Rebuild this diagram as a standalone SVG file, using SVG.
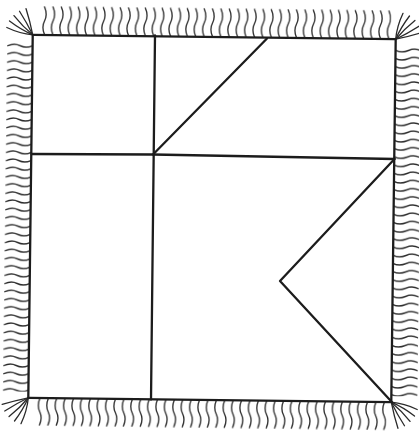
<svg xmlns="http://www.w3.org/2000/svg" width="419" height="432" viewBox="0 0 419 432">
  <style>
    .edge { fill: none; stroke: #1c1c1c; stroke-width: 2.3; stroke-linejoin: round; stroke-linecap: round; }
    .fr { fill: none; stroke: #2a2a2a; stroke-width: 1.3; stroke-linecap: round; }
  </style>
  <defs>
    <pattern id="pTop" patternUnits="userSpaceOnUse" x="38" y="8" width="8.4" height="29">
      <path class="fr" d="M4,0.8 C6.2,6 6.2,11 4.2,15 S2.2,24 4.4,29"/>
    </pattern>
    <pattern id="pBot" patternUnits="userSpaceOnUse" x="38" y="400" width="8.4" height="28">
      <path class="fr" d="M4.2,0 C2.2,5 2.2,10 4.2,14 S6.2,22 4,27.2"/>
    </pattern>
    <pattern id="pLeft" patternUnits="userSpaceOnUse" x="5" y="44" width="25.5" height="8.2">
      <path class="fr" d="M0.8,4.3 C5,2.2 9,2.2 13,4.1 S21,6 25.5,4"/>
    </pattern>
    <pattern id="pRight" patternUnits="userSpaceOnUse" x="393.5" y="44" width="26" height="8.2">
      <path class="fr" d="M0,4 C4.5,6 8.5,6 13,4.1 S21,2.2 25.5,4.3"/>
    </pattern>
    <g id="fan">
      <path class="fr" d="M0,0 Q-13,-1 -26,-7"/>
      <path class="fr" d="M0,0 Q-12,-5 -23.4,-13.5"/>
      <path class="fr" d="M0,0 Q-10,-8 -19,-19"/>
      <path class="fr" d="M0,0 Q-6,-12 -13.5,-23.4"/>
      <path class="fr" d="M0,0 Q-3,-14 -7,-26"/>
    </g>
  </defs>

  <rect width="419" height="432" fill="#ffffff"/>

  <g id="border" transform="rotate(0.7 212 218.5)">
    <rect x="38" y="8" width="351" height="29" fill="url(#pTop)"/>
    <rect x="38" y="400" width="351" height="28" fill="url(#pBot)"/>
    <rect x="5" y="44" width="25.5" height="350" fill="url(#pLeft)"/>
    <rect x="393.5" y="44" width="26" height="350" fill="url(#pRight)"/>
    <use href="#fan" transform="translate(30.5 37)"/>
    <use href="#fan" transform="translate(393.5 37) rotate(90)"/>
    <use href="#fan" transform="translate(393.5 400) rotate(180)"/>
    <use href="#fan" transform="translate(30.5 400) rotate(270)"/>
    <rect class="edge" x="30.5" y="37" width="363" height="363"/>
  </g>

  <g id="connectors">
    <path class="edge" d="M155,35.5 L151,399.5"/>
    <path class="edge" d="M31.7,154 L153,154.5 L394.5,159"/>
    <path class="edge" d="M153,154.5 L267,38.5"/>
    <path class="edge" d="M394.5,159 L280,281 L392.3,402.5"/>
  </g>
</svg>
